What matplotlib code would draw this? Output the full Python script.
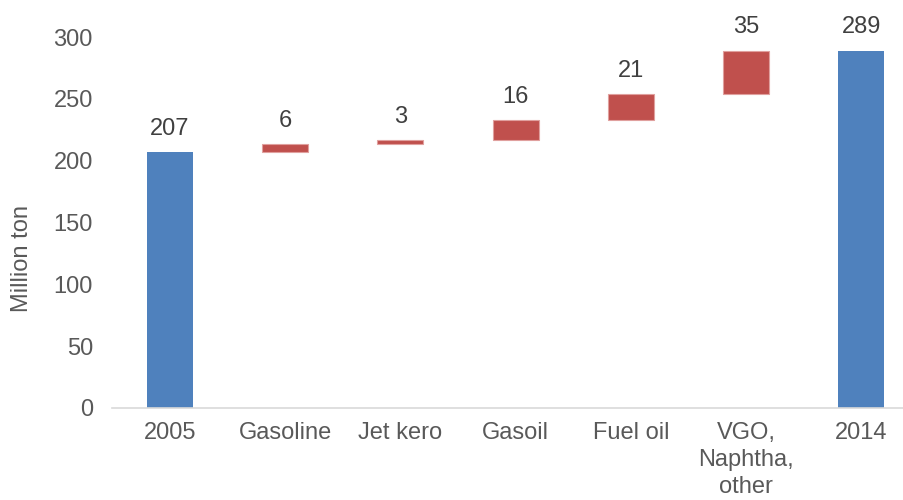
import numpy as np
import matplotlib
matplotlib.use("Agg")
import matplotlib.pyplot as plt

plt.rcParams['font.family'] = ['Liberation Sans', 'DejaVu Sans']

categories = ["2005", "Gasoline", "Jet kero", "Gasoil", "Fuel oil", "VGO,\nNaphtha,\nother", "2014"]
start_value = 207.0
changes = [6.3, 3.1, 16.4, 21.0, 35.2]
end_value = 289.0
labels = ["207", "6", "3", "16", "21", "35", "289"]

blue = "#4F81BD"
red = "#C0504D"

fig = plt.figure(figsize=(9.04, 5.0), dpi=100)
ax = fig.add_axes([0.1243, 0.184, 0.8757, 0.742])

x = np.arange(len(categories))
width = 0.4

# totals
ax.bar(x[0], start_value, width, color=blue, zorder=2)
ax.bar(x[-1], end_value, width, color=blue, zorder=2)

# floating changes
bottoms = start_value + np.concatenate([[0], np.cumsum(changes)[:-1]])
ax.bar(x[1:-1], changes, width, bottom=bottoms, color=red,
       edgecolor="#E0A09E", linewidth=0.8, zorder=2)

tops = [start_value] + list(bottoms + np.array(changes)) + [end_value]
for xi, top, lab in zip(x, tops, labels):
    ax.annotate(lab, (xi, top), xytext=(0, 9), textcoords="offset points",
                ha="center", va="bottom", fontsize=17, color="#404040",
                annotation_clip=False)

ax.set_ylim(0, 300)
ax.set_xlim(-0.5, 6.37)
ax.set_yticks(np.arange(0, 301, 50))
ax.set_xticks(x)
ax.set_xticklabels(categories, linespacing=1.3, va="top")
ax.tick_params(axis="y", length=0, pad=14, labelsize=17, labelcolor="#595959")
ax.tick_params(axis="x", length=0, pad=10, labelsize=17, labelcolor="#595959")

for s in ["top", "right", "left"]:
    ax.spines[s].set_visible(False)
ax.spines["bottom"].set_color("#D9D9D9")
ax.spines["bottom"].set_linewidth(1.2)

fig.text(22 / 904, 1 - 258 / 500, "Million ton", rotation=90, ha="center",
         va="center", fontsize=17, color="#595959")

fig.savefig("out.png", dpi=100)
